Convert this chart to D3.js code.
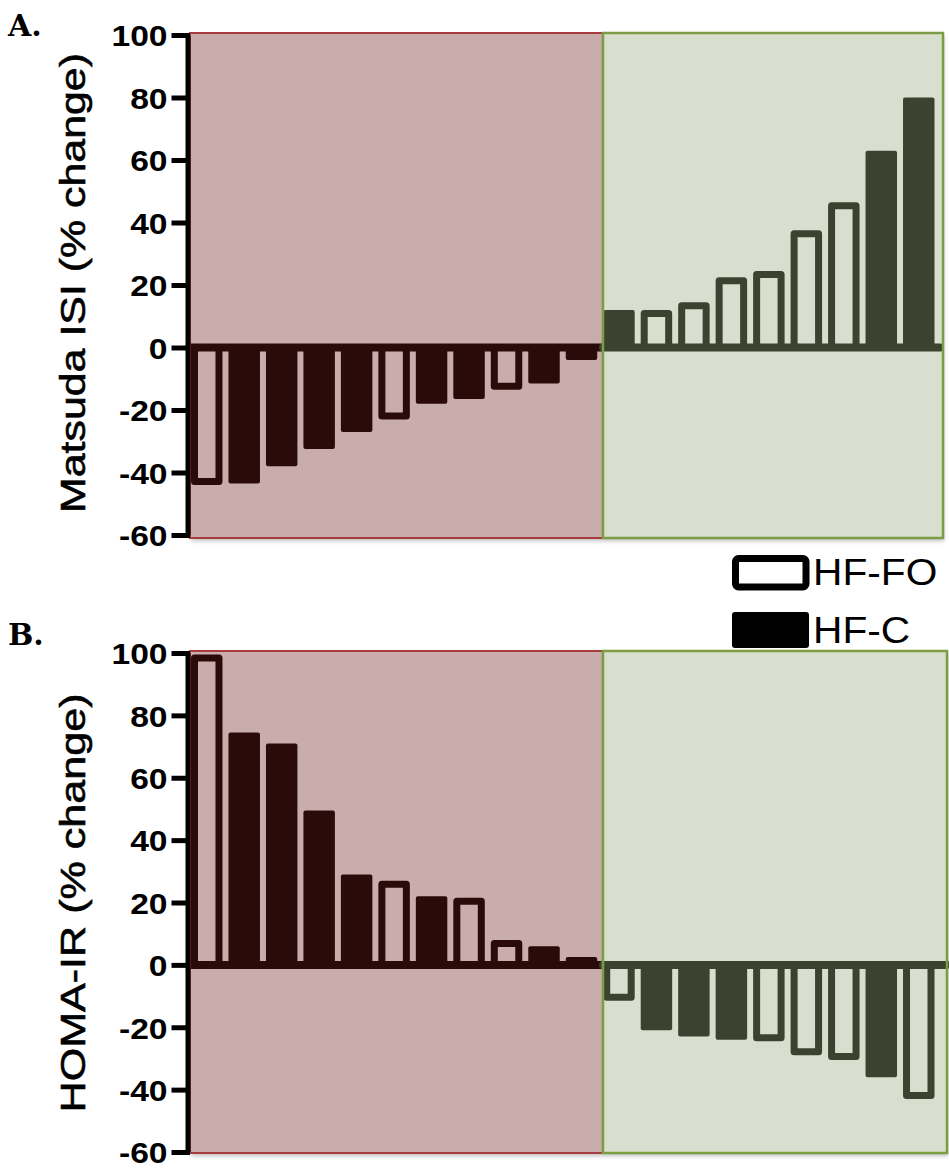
<!DOCTYPE html>
<html><head><meta charset="utf-8">
<script src="https://cdn.jsdelivr.net/npm/d3@7"></script>
<style>body{margin:0;background:#fff}</style>
</head><body>
<svg id="chart" width="949" height="1169"></svg>
<script>
// ---------- data ----------
const subjects = ["s1","s2","s3","s4","s5","s6","s7","s8","s9","s10","s11","s12","s13","s14","s15","s16","s17","s18","s19","s20"];
const matsudaChange = [-44, -43.5, -38, -32.5, -27, -23, -18, -16.5, -13.5, -11.5, -4, 12, 12, 14.5, 22.5, 24.5, 37.5, 46.5, 63, 80];
const matsudaDiet = ["HF-FO","HF-C","HF-C","HF-C","HF-C","HF-FO","HF-C","HF-C","HF-FO","HF-C","HF-C","HF-C","HF-FO","HF-FO","HF-FO","HF-FO","HF-FO","HF-FO","HF-C","HF-C"];
const homaChange = [99.5, 74.5, 71, 49.5, 29, 27, 22, 21.5, 8, 6, 2.5, -11.5, -21, -23, -24, -24.5, -29, -30.5, -36, -43];
const homaDiet = ["HF-FO","HF-C","HF-C","HF-C","HF-C","HF-FO","HF-C","HF-FO","HF-FO","HF-C","HF-C","HF-FO","HF-C","HF-C","HF-C","HF-FO","HF-FO","HF-FO","HF-C","HF-FO"];
const worsenedCount = [11, 11];           // subjects in the red (worsened) zone per panel
const yTicks = [100, 80, 60, 40, 20, 0, -20, -40, -60];
const yTickLabels = ["100", "80", "60", "40", "20", "0", "-20", "-40", "-60"];
const yDomain = [-60, 100];
const legendLabels = ["HF-FO", "HF-C"];
const panelLetters = ["A.", "B."];
const yTitles = ["Matsuda ISI (% change)", "HOMA-IR (% change)"];

// ---------- style / layout ----------
const C = {
  redBg: "#c9adad", redBorder: "#a83c3c", redDark: "#2b0b09",
  greenBg: "#d8dfcf", greenBorder: "#7d9d44", greenDark: "#3b4330"
};
const panels = [
  { values: matsudaChange, diets: matsudaDiet, title: yTitles[0], letter: panelLetters[0], split: worsenedCount[0],
    yTop: 35, yBot: 535, boxTop: 33, boxBot: 538, greenRight: 943, zeroEnd: 940,
    titleCenter: 283, titleLen: 460, letterY: 36 },
  { values: homaChange, diets: homaDiet, title: yTitles[1], letter: panelLetters[1], split: worsenedCount[1],
    yTop: 653, yBot: 1152, boxTop: 651, boxBot: 1153, greenRight: 947, zeroEnd: 947,
    titleCenter: 903, titleLen: 419, letterY: 645 }
];
const axisX = 187.5, boxLeft = 190, boxSplit = 603;

const svg = d3.select("#chart");
const defs = svg.append("defs");
const f = defs.append("filter").attr("id", "shadow").attr("x", "-5%").attr("y", "-5%").attr("width", "110%").attr("height", "112%");
f.append("feDropShadow").attr("dx", 1).attr("dy", 3).attr("stdDeviation", 2).attr("flood-color", "#000").attr("flood-opacity", 0.25);

const x = d3.scaleBand().domain(subjects).range([188, 937.5]).paddingInner(0.16).paddingOuter(0.08);
const bw = x.bandwidth();
const sw = 7;

panels.forEach(p => {
  const y = d3.scaleLinear().domain(yDomain).range([p.yBot, p.yTop]);
  const y0 = y(0);
  const g = svg.append("g");

  // zone boxes
  g.append("rect").attr("x", boxLeft).attr("y", p.boxTop).attr("width", boxSplit - boxLeft).attr("height", p.boxBot - p.boxTop)
    .attr("fill", C.redBg).attr("filter", "url(#shadow)");
  g.append("rect").attr("x", boxSplit).attr("y", p.boxTop).attr("width", p.greenRight - boxSplit).attr("height", p.boxBot - p.boxTop)
    .attr("fill", C.greenBg).attr("filter", "url(#shadow)");

  // bars
  subjects.forEach((s, i) => {
    const v = p.values[i];
    const dark = i < p.split ? C.redDark : C.greenDark;
    const yv = y(v);
    const top = Math.min(yv, y0), h = Math.abs(yv - y0);
    if (p.diets[i] === "HF-C") {
      g.append("rect").attr("x", x(s)).attr("y", top).attr("width", bw).attr("height", h)
        .attr("rx", 2).attr("fill", dark);
    } else {
      const yy = v > 0 ? yv + sw / 2 : y0;
      g.append("rect").attr("x", x(s) + sw / 2).attr("y", yy).attr("width", bw - sw).attr("height", Math.max(0, h - sw / 2))
        .attr("fill", "none").attr("stroke", dark).attr("stroke-width", sw).attr("stroke-linejoin", "round");
    }
  });

  // zero line
  g.append("line").attr("x1", boxLeft).attr("x2", boxSplit).attr("y1", y0).attr("y2", y0)
    .attr("stroke", C.redDark).attr("stroke-width", 8);
  g.append("line").attr("x1", boxSplit).attr("x2", p.zeroEnd).attr("y1", y0).attr("y2", y0)
    .attr("stroke", C.greenDark).attr("stroke-width", 8).attr("stroke-linecap", "round");

  // box borders
  g.append("rect").attr("x", boxLeft).attr("y", p.boxTop).attr("width", boxSplit - boxLeft).attr("height", p.boxBot - p.boxTop)
    .attr("fill", "none").attr("stroke", C.redBorder).attr("stroke-width", 2);
  g.append("rect").attr("x", boxSplit).attr("y", p.boxTop).attr("width", p.greenRight - boxSplit).attr("height", p.boxBot - p.boxTop)
    .attr("fill", "none").attr("stroke", C.greenBorder).attr("stroke-width", 2.5);

  // y axis
  const ax = svg.append("g").attr("transform", `translate(${axisX},0)`)
    .call(d3.axisLeft(y).tickValues(yTicks).tickSize(16).tickSizeOuter(0).tickPadding(4)
      .tickFormat(d => yTickLabels[yTicks.indexOf(d)]));
  ax.select(".domain").attr("stroke", "#000").attr("stroke-width", 5);
  ax.selectAll(".tick line").attr("stroke", "#000").attr("stroke-width", 5).attr("x2", -16).attr("x1", 2.5);
  ax.selectAll(".tick text").attr("fill", "#000")
    .style("font-family", "'Liberation Sans', Arial, sans-serif").style("font-weight", "bold").style("font-size", "30px")
    .attr("dy", "0.36em")
    .each(function () { const L = this.getComputedTextLength(); d3.select(this).attr("textLength", L * 1.12).attr("lengthAdjust", "spacingAndGlyphs"); });

  // y title
  svg.append("text").attr("transform", `translate(85,${p.titleCenter}) rotate(-90)`)
    .attr("text-anchor", "middle").attr("textLength", p.titleLen).attr("lengthAdjust", "spacingAndGlyphs")
    .style("font-family", "'Liberation Sans', Arial, sans-serif").style("font-size", "35px").attr("fill", "#000")
    .attr("stroke", "#000").attr("stroke-width", 0.6)
    .text(p.title);

  // panel letter
  svg.append("text").attr("x", 8).attr("y", p.letterY)
    .style("font-family", "'DejaVu Serif', 'Liberation Serif', serif").style("font-weight", "bold").style("font-size", "30px")
    .attr("fill", "#000").text(p.letter);
});

// legend
const leg = svg.append("g");
leg.append("rect").attr("x", 735.5).attr("y", 558.5).attr("width", 70.5).attr("height", 28.5).attr("rx", 3)
  .attr("fill", "#fff").attr("stroke", "#000").attr("stroke-width", 7);
leg.append("rect").attr("x", 732).attr("y", 612).attr("width", 77).attr("height", 36).attr("rx", 3).attr("fill", "#000");
[[legendLabels[0], 585], [legendLabels[1], 643]].forEach(([t, yy]) => {
  leg.append("text").attr("x", 813).attr("y", yy)
    .style("font-family", "'Liberation Sans', Arial, sans-serif").style("font-size", "37px").attr("fill", "#000")
    .text(t)
    .each(function () { const L = this.getComputedTextLength(); d3.select(this).attr("textLength", L * 1.1).attr("lengthAdjust", "spacingAndGlyphs"); });
});
</script>
</body></html>
